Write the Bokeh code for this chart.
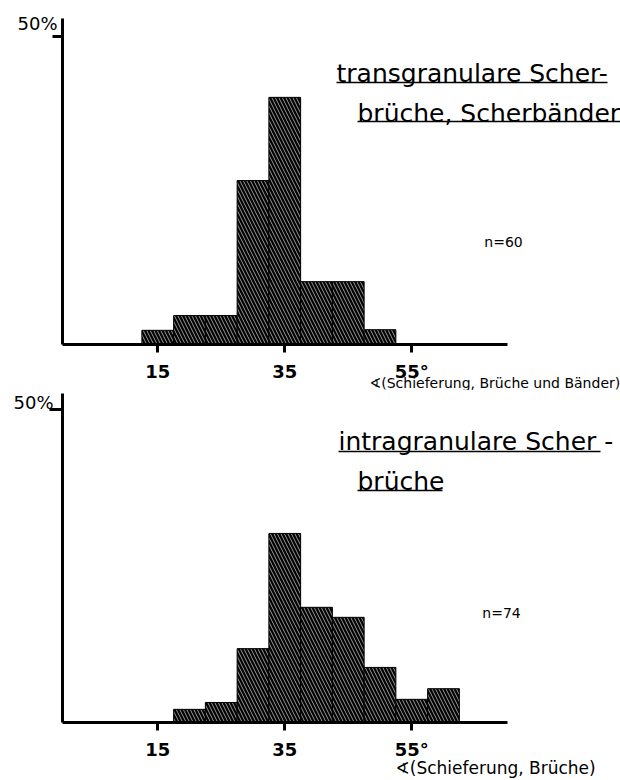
from bokeh.plotting import figure
from bokeh.layouts import column
from bokeh.models import Range1d, FixedTicker, Label, ColumnDataSource
from bokeh.embed import file_html
from bokeh.resources import INLINE

# ---------------- data ----------------
bin_width = 5
top_bins = [15, 20, 25, 30, 35, 40, 45, 50]
top_pct = [2.3, 4.7, 4.7, 26.6, 40.1, 10.2, 10.2, 2.4]
bottom_bins = [20, 25, 30, 35, 40, 45, 50, 55, 60]
bottom_pct = [2.1, 3.2, 11.8, 30.2, 18.4, 16.8, 8.8, 3.7, 5.4]
x_ticks = [15, 35, 55]
x_tick_labels = ["15", "35", "55°"]
y_ticks = [50]
y_tick_label = "50%"
top_title = ["transgranulare Scher-", "brüche, Scherbänder"]
bottom_title = ["intragranulare Scher -", "brüche"]
top_n = "n=60"
bottom_n = "n=74"
top_xlabel = "∢(Schieferung, Brüche und Bänder)"
bottom_xlabel = "∢(Schieferung, Brüche)"

FONT = "DejaVu Sans"
W = 620
XPX = 6.35      # px per degree
X0 = 62         # px of 0 degree


def X(sx):
    return (sx - X0) / XPX


def make_fig(height, base_px, ypx, axis_top_px, bins, pct, tick_out_y):
    p = figure(width=W, height=height, output_backend="svg", toolbar_location=None,
               x_range=Range1d(X(0), X(W)),
               y_range=Range1d(-(height - base_px) / ypx, base_px / ypx),
               min_border=0, min_border_left=0, min_border_right=0,
               min_border_top=0, min_border_bottom=0,
               outline_line_color=None, background_fill_color="white",
               border_fill_color="white")
    p.xgrid.visible = False
    p.ygrid.visible = False
    src = ColumnDataSource(dict(
        left=[b - bin_width / 2 for b in bins],
        right=[b + bin_width / 2 for b in bins],
        top=pct,
        bottom=[0] * len(bins)))
    p.quad(left="left", right="right", top="top", bottom="bottom", source=src,
           fill_color="black", line_color="black", line_width=1,
           hatch_pattern="\\", hatch_color="white", hatch_scale=7,
           hatch_weight=1, hatch_alpha=0.6)
    xa = p.xaxis[0]
    xa.fixed_location = 0
    xa.ticker = FixedTicker(ticks=x_ticks)
    xa.major_label_overrides = {t: l for t, l in zip(x_ticks, x_tick_labels)}
    xa.bounds = (0, 70)
    xa.axis_line_width = 3
    xa.major_tick_line_width = 3
    xa.major_tick_out = 8
    xa.major_tick_in = 0
    xa.minor_tick_out = 0
    xa.minor_tick_in = 0
    xa.major_label_standoff = 8
    xa.major_label_text_font = FONT
    xa.major_label_text_font_size = "18px"
    xa.major_label_text_font_style = "bold"
    xa.major_label_text_color = "black"
    ya = p.yaxis[0]
    ya.fixed_location = 0
    ya.ticker = FixedTicker(ticks=y_ticks)
    ya.major_label_overrides = {y_ticks[0]: ""}
    ya.bounds = (0, (base_px - axis_top_px) / ypx)
    ya.axis_line_width = 3
    ya.major_tick_line_width = 3
    ya.major_tick_out = tick_out_y
    ya.major_tick_in = 0
    ya.minor_tick_out = 0
    ya.minor_tick_in = 0
    return p


def add_texts(p, Y, pct_lbl, t1, t2, ul, n_lbl, xl):
    p.add_layout(Label(x=X(pct_lbl[0]), y=Y(pct_lbl[1]), text=y_tick_label,
                       text_align="right", text_baseline=pct_lbl[2], text_font=FONT,
                       text_font_size="18px", text_color="black"))
    for (sx, sy, txt) in (t1, t2):
        p.add_layout(Label(x=X(sx), y=Y(sy), text=txt, text_font=FONT,
                           text_font_size="25px", text_baseline="alphabetic",
                           text_color="black"))
    p.segment(x0=[X(u[0]) for u in ul], x1=[X(u[1]) for u in ul],
              y0=[Y(u[2]) for u in ul], y1=[Y(u[2]) for u in ul],
              line_color="black", line_width=1.6)
    p.add_layout(Label(x=X(n_lbl[0]), y=Y(n_lbl[1]), text=n_lbl[2], text_font=FONT,
                       text_font_size="14px", text_align="center",
                       text_baseline="middle", text_color="black"))
    p.add_layout(Label(x=X(xl[0]), y=Y(xl[1]), text=xl[3], text_font=FONT,
                       text_font_size=xl[2], text_baseline="middle", text_color="black"))


# ---------------- top chart (screen y 0..390) ----------------
H1 = 390
B1 = 344
YPX1 = 6.163
p1 = make_fig(H1, B1, YPX1, 18, top_bins, top_pct, 10)


def Y1(sy):
    return (B1 - sy) / YPX1


add_texts(p1, Y1, (57, 23, "middle"),
          (336, 73, top_title[0]), (357, 113, top_title[1]),
          [(336, 607, 82), (357, 620, 121)],
          (503, 241, top_n), (369, 382, "14px", top_xlabel))

# ---------------- bottom chart (screen y 390..778) ----------------
H2 = 388
OFF2 = 390
B2 = 722 - OFF2
YPX2 = 6.26
p2 = make_fig(H2, B2, YPX2, 393 - OFF2, bottom_bins, bottom_pct, 13)


def Y2(sy):
    return (B2 - (sy - OFF2)) / YPX2


add_texts(p2, Y2, (53, 391, "top"),
          (338, 441, bottom_title[0]), (357, 481, bottom_title[1]),
          [(338, 600, 451), (357, 442, 490)],
          (501, 612, bottom_n), (395, 767, "17px", bottom_xlabel))

layout = column(p1, p2, spacing=0)
open("out.html", "w").write(file_html(layout, INLINE))
